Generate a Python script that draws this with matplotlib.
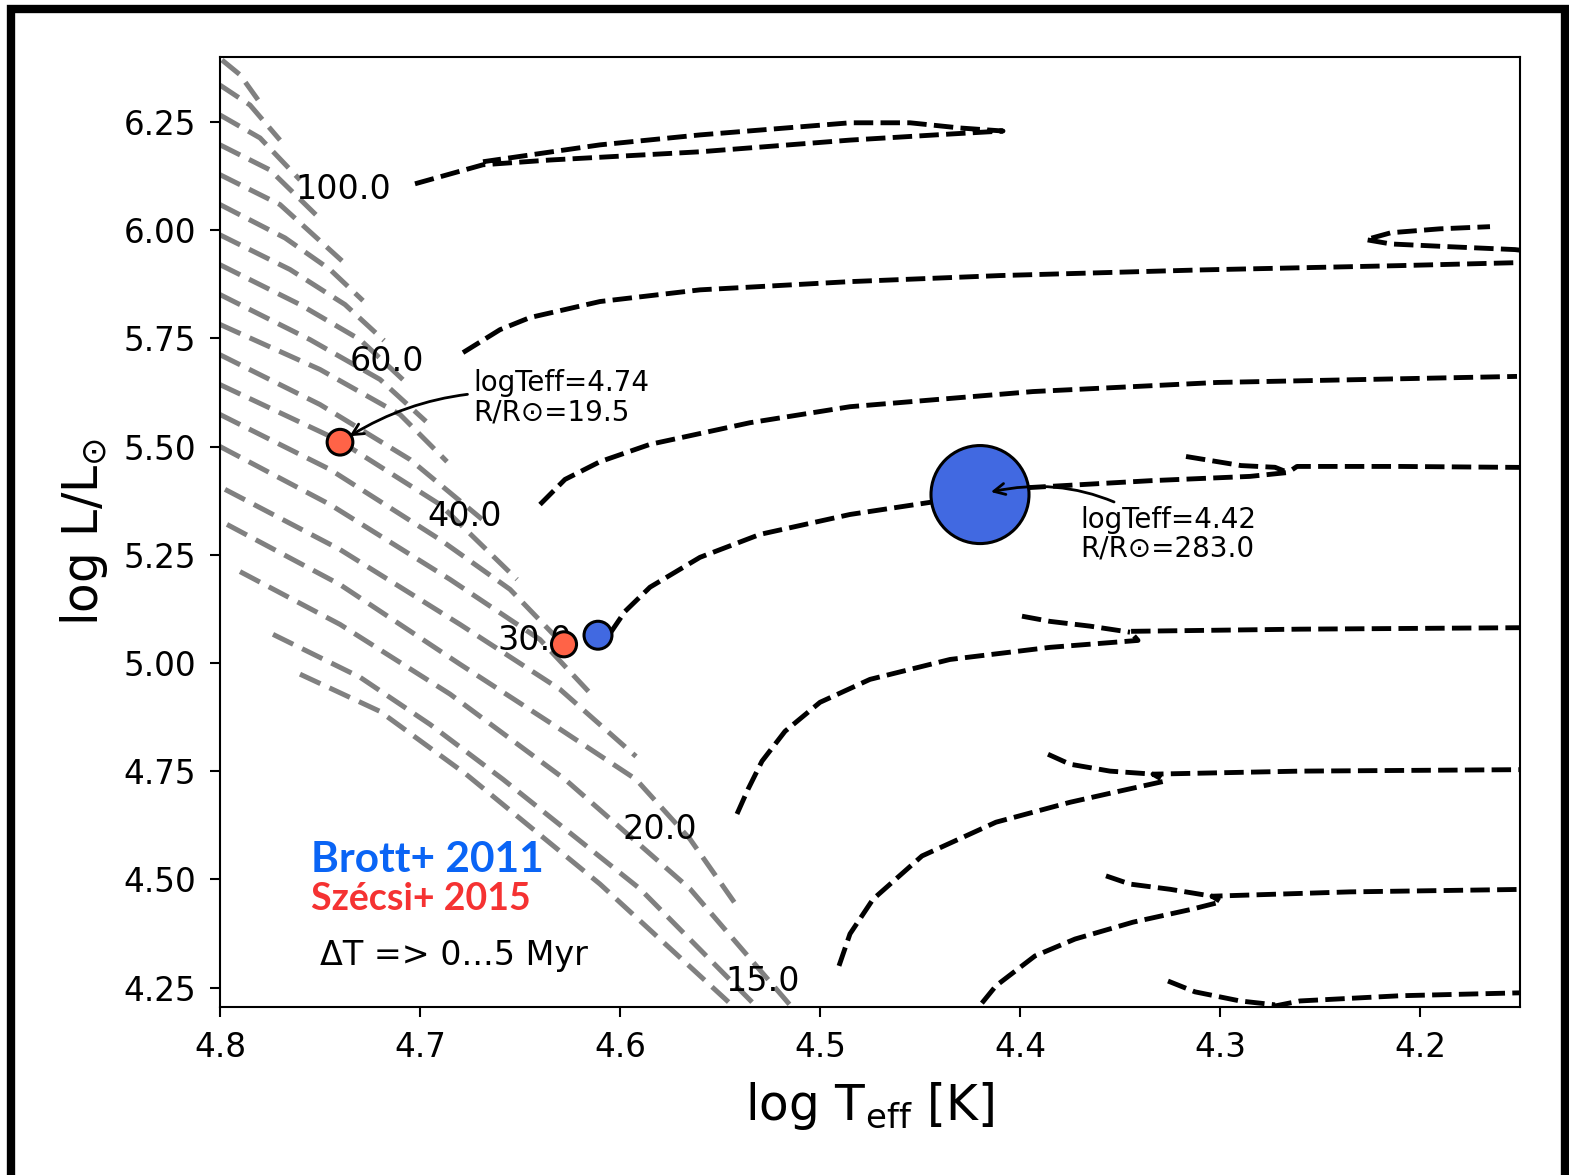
import numpy as np
import matplotlib.pyplot as plt
from matplotlib.patches import Rectangle

# Brott+ 2011 tracks (log Teff, log L); nan splits a track into pieces
b100_T = [4.7025, 4.6685, 4.635, 4.56, 4.485, 4.435, 4.4085, 4.43, 4.455, 4.485, 4.56, 4.61, 4.6685]
b100_L = [6.107, 6.151, 6.162, 6.181, 6.208, 6.222, 6.229, 6.236, 6.248, 6.248, 6.22, 6.197, 6.158]

b60_T = [4.6785, 4.66, 4.645, 4.61, 4.56, 4.485, 4.41, 4.31, 4.21, 4.15, 4.13, 4.1525, 4.187, 4.2145, 4.227, 4.2145, 4.19, 4.165]
b60_L = [5.717, 5.77, 5.798, 5.835, 5.862, 5.881, 5.895, 5.908, 5.918, 5.925, 5.943, 5.955, 5.962, 5.968, 5.978, 5.994, 6.003, 6.008]

b40_T = [4.64, 4.6275, 4.61, 4.585, 4.535, 4.485, 4.3935, 4.3015, 4.1515]
b40_L = [5.366, 5.424, 5.465, 5.505, 5.555, 5.592, 5.627, 5.648, 5.662]

b30_T = [4.605, 4.5975, 4.585, 4.56, 4.53, 4.485, 4.445, 4.396, 4.335, 4.285, 4.266, 4.2615, 4.21, 4.13,
         np.nan, 4.317, 4.2895, 4.2725, 4.266]
b30_L = [5.068, 5.119, 5.175, 5.244, 5.297, 5.343, 5.371, 5.405, 5.421, 5.431, 5.44, 5.454, 5.454, 5.451,
         np.nan, 5.477, 5.456, 5.452, 5.44]

b20_T = [4.5415, 4.536, 4.529, 4.5175, 4.50, 4.475, 4.435, 4.385, 4.341, 4.345, 4.26, 4.13,
         np.nan, 4.399, 4.385, 4.365, 4.345]
b20_L = [4.651, 4.708, 4.773, 4.842, 4.909, 4.962, 5.008, 5.036, 5.052, 5.073, 5.078, 5.082,
         np.nan, 5.108, 5.096, 5.085, 5.071]

b15_T = [4.4905, 4.485, 4.4735, 4.449, 4.412, 4.375, 4.35, 4.3275, 4.3335, 4.26, 4.13,
         np.nan, 4.386, 4.375, 4.355, 4.3335]
b15_L = [4.300, 4.374, 4.454, 4.554, 4.632, 4.678, 4.704, 4.727, 4.743, 4.75, 4.754,
         np.nan, 4.789, 4.766, 4.75, 4.743]

b12_T = [4.4275, 4.412, 4.3925, 4.3725, 4.3435, 4.314, 4.2995, 4.304, 4.235, 4.13,
         np.nan, 4.357, 4.345, 4.325, 4.304]
b12_L = [4.166, 4.254, 4.323, 4.362, 4.401, 4.431, 4.448, 4.461, 4.471, 4.478,
         np.nan, 4.508, 4.489, 4.477, 4.461]

b9_T = [4.335, 4.295, 4.275, 4.26, 4.21, 4.13, np.nan, 4.326, 4.3125, 4.29, 4.2725]
b9_L = [4.085, 4.178, 4.205, 4.219, 4.231, 4.24, np.nan, 4.265, 4.24, 4.219, 4.21]

brott_T = [b100_T, b60_T, b40_T, b30_T, b20_T, b15_T, b12_T, b9_T]
brott_L = [b100_L, b60_L, b40_L, b30_L, b20_L, b15_L, b12_L, b9_L]

# mass labels
mass_labels = ['100.0', '60.0', '40.0', '30.0', '20.0', '15.0']
label_T = [4.7385, 4.7165, 4.6775, 4.6425, 4.58, 4.5285]
label_L = [6.093, 5.696, 5.338, 5.052, 4.616, 4.265]

# Szécsi+ 2015 tracks, from the hot end down to the ZAMS
szecsi_T = [
    [4.76, 4.72, 4.677, 4.61, 4.5435, 4.534],
    [4.7735, 4.73, 4.695, 4.6585, 4.59, 4.532, 4.5225],
    [4.79, 4.74, 4.685, 4.6275, 4.565, 4.5145, 4.505],
    [4.7965, 4.74, 4.68, 4.63, 4.592, 4.565, 4.5415],
    [4.7975, 4.74, 4.68, 4.63, 4.592],
    [4.8, 4.745, 4.685, 4.64, 4.6135],
    [4.8, 4.745, 4.69, 4.655, 4.6285],
    [4.8, 4.7405, 4.69, 4.6515],
    [4.8, 4.75, 4.705, 4.669],
    [4.8, 4.75, 4.71, 4.6865],
    [4.8, 4.755, 4.72, 4.697],
    [4.8, 4.76, 4.73, 4.7075],
    [4.8, 4.765, 4.7375, 4.718],
    [4.8, 4.7675, 4.745, 4.7285],
    [4.8, 4.77, 4.739],
    [4.8, 4.775, 4.7495],
    [4.8, 4.78, 4.76],
    [4.8, 4.785, 4.77],
    [4.799, 4.79, 4.781],
]
szecsi_L = [
    [4.974, 4.888, 4.743, 4.489, 4.207, 4.154],
    [5.066, 4.967, 4.858, 4.731, 4.478, 4.207, 4.154],
    [5.211, 5.089, 4.928, 4.731, 4.478, 4.207, 4.154],
    [5.320, 5.181, 4.997, 4.847, 4.731, 4.593, 4.438],
    [5.401, 5.262, 5.089, 4.939, 4.784],
    [5.500, 5.366, 5.193, 5.054, 4.923],
    [5.574, 5.447, 5.285, 5.170, 5.043],
    [5.643, 5.514, 5.366, 5.193],
    [5.712, 5.597, 5.470, 5.332],
    [5.782, 5.678, 5.574, 5.465],
    [5.851, 5.747, 5.655, 5.558],
    [5.920, 5.828, 5.747, 5.650],
    [5.989, 5.909, 5.828, 5.745],
    [6.059, 5.982, 5.909, 5.837],
    [6.128, 6.059, 5.929],
    [6.197, 6.139, 6.024],
    [6.266, 6.213, 6.116],
    [6.335, 6.289, 6.208],
    [6.393, 6.359, 6.301],
]

# marked models: log Teff, log L, radius (R/Rsun)
red_T = [4.74, 4.628]
red_L = [5.51, 5.043]
red_R = [19.5, 18.5]
blue_T = [4.611, 4.42]
blue_L = [5.064, 5.389]
blue_R = [23.0, 283.0]

fig = plt.figure(figsize=(15.69, 11.75), dpi=100)
ax = fig.add_axes([220 / 1569, 1 - 1007 / 1175, 1300 / 1569, 950 / 1175])

for T, L in zip(szecsi_T, szecsi_L):
    ax.plot(T, L, color='grey', lw=3.6, ls=(0, (4.5, 2.0)), zorder=2)

for T, L in zip(brott_T, brott_L):
    ax.plot(T, L, color='black', lw=3.5, ls=(0, (4.0, 1.5)), zorder=3)

for lab, t, l in zip(mass_labels, label_T, label_L):
    ax.text(t, l, lab, fontsize=24, ha='center', va='center', zorder=4)

size_k = 17.6
ax.scatter(red_T, red_L, s=[size_k * r for r in red_R], color='tomato',
           edgecolor='black', linewidth=2.2, zorder=5)
ax.scatter(blue_T, blue_L, s=[size_k * r for r in blue_R], color='royalblue',
           edgecolor='black', linewidth=2.2, zorder=5)

ax.annotate('logTeff=%.2f\nR/R\u2299=%.1f' % (red_T[0], red_R[0]),
            xy=(red_T[0], red_L[0]), xytext=(4.6735, 5.613),
            fontsize=20, ha='left', va='center', linespacing=1.05,
            arrowprops=dict(arrowstyle='->', color='black', lw=2,
                            connectionstyle='arc3,rad=0.2', shrinkB=8),
            zorder=6)
ax.annotate('logTeff=%.2f\nR/R\u2299=%.1f' % (blue_T[1], blue_R[1]),
            xy=(blue_T[1], blue_L[1]), xytext=(4.37, 5.297),
            fontsize=20, ha='left', va='center', linespacing=1.05,
            arrowprops=dict(arrowstyle='->', color='black', lw=2,
                            connectionstyle='arc3,rad=0.25', shrinkB=8),
            zorder=6)

ax.text(0.07, 0.142, 'Brott+ 2011', transform=ax.transAxes, color='#0a64f5',
        fontsize=30.5, fontweight='bold', family='Lato')
ax.text(0.07, 0.102, 'Szécsi+ 2015', transform=ax.transAxes, color='#f53232',
        fontsize=27, fontweight='bold', family='Lato')
ax.text(0.077, 0.044, 'ΔT => 0...5 Myr', transform=ax.transAxes, fontsize=24)

ax.set_xlim(4.8, 4.15)
ax.set_ylim(4.205, 6.40)
ax.set_yticks([4.25, 4.5, 4.75, 5.0, 5.25, 5.5, 5.75, 6.0, 6.25])
ax.set_xticks([4.8, 4.7, 4.6, 4.5, 4.4, 4.3, 4.2])
ax.set_xticklabels(['4.8', '4.7', '4.6', '4.5', '4.4', '4.3', '4.2'])
ax.tick_params(labelsize=23.5, length=7, width=1.5, direction='out', pad=10)
for sp in ax.spines.values():
    sp.set_linewidth(1.5)

ax.set_xlabel(r'$\log\,\mathrm{T_{eff}}$ [K]', fontsize=35, labelpad=12)
ax.set_ylabel(r'$\log\,\mathrm{L/L_{\odot}}$', fontsize=35, labelpad=10)

# black frame round the whole figure
fig.patches.append(Rectangle((11 / 1569, -0.002), 1554 / 1569, 0.9944, transform=fig.transFigure,
                             fill=False, edgecolor='black', lw=6, zorder=10))

fig.savefig('out.png', dpi=100)
